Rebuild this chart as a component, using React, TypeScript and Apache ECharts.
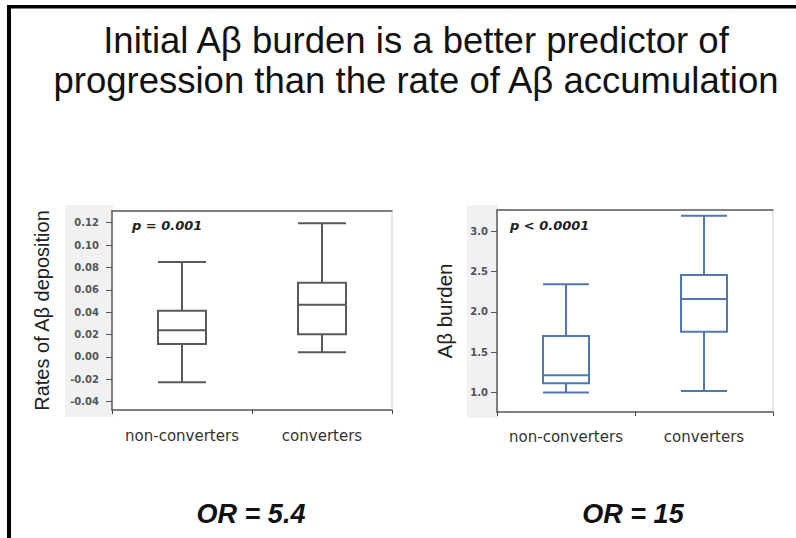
import React, { useEffect, useRef } from "react";
import * as echarts from "echarts";

const titleLines = [
  "Initial Aβ burden is a better predictor of",
  "progression than the rate of Aβ accumulation",
];
const categories = ["non-converters", "converters"];
// [min, Q1, median, Q3, max]
const rateBoxes = [
  [-0.0225, 0.0117, 0.0239, 0.0414, 0.085],
  [0.0043, 0.0204, 0.0468, 0.0664, 0.1195],
];
const burdenBoxes = [
  [1.0, 1.115, 1.215, 1.7, 2.34],
  [1.02, 1.752, 2.157, 2.455, 3.19],
];
const rateTicks = [-0.04, -0.02, 0.0, 0.02, 0.04, 0.06, 0.08, 0.1, 0.12];
const burdenTicks = [1.0, 1.5, 2.0, 2.5, 3.0];
const rateAxisName = "Rates of Aβ deposition";
const burdenAxisName = "Aβ burden";
const pLabels = ["p = 0.001", "p < 0.0001"];
const orLabels = ["OR = 5.4", "OR = 15"];

const SANS = "'Liberation Sans', Arial, sans-serif";
const DEJAVU = "'DejaVu Sans', Verdana, sans-serif";

export default function App() {
  const ref = useRef<HTMLDivElement>(null);
  useEffect(() => {
    if (!ref.current) return;
    const chart = echarts.init(ref.current, undefined, { renderer: "svg" });
    const frameDark = "#5f5f5f";
    const gray = "#595959";
    const blue = "#5076b4";

    const xBottom = (gridIndex: number, margin: number) => ({
      type: "category",
      gridIndex,
      position: "bottom",
      data: categories,
      axisLine: { show: true, onZero: false, lineStyle: { color: frameDark, width: 1.5 } },
      axisTick: { show: true, length: 4, lineStyle: { color: "#444", width: 1 } },
      axisLabel: {
        interval: 0,
        margin,
        fontFamily: DEJAVU,
        fontSize: 15,
        lineHeight: 18,
        color: "#333",
      },
      splitLine: { show: false },
    });
    const xTop = (gridIndex: number) => ({
      type: "category",
      gridIndex,
      position: "top",
      data: categories,
      axisLine: { show: true, onZero: false, lineStyle: { color: frameDark, width: 1.5 } },
      axisTick: { show: false },
      axisLabel: { show: false },
      splitLine: { show: false },
    });

    const option: any = {
      animation: false,
      backgroundColor: "#ffffff",
      grid: [
        {
          left: 112,
          top: 211,
          width: 280,
          height: 199,
          show: true,
          borderColor: "#cfcfcf",
          borderWidth: 1,
          backgroundColor: "#ffffff",
          containLabel: false,
          outerBoundsMode: "none",
        },
        {
          left: 497,
          top: 210,
          width: 276,
          height: 202,
          show: true,
          borderColor: "#cfcfcf",
          borderWidth: 1,
          backgroundColor: "#ffffff",
          containLabel: false,
          outerBoundsMode: "none",
        },
      ],
      xAxis: [xBottom(0, 17), xTop(0), xBottom(1, 16), xTop(1)],
      yAxis: [
        {
          type: "value",
          gridIndex: 0,
          min: -0.0474,
          max: 0.1305,
          name: rateAxisName,
          nameLocation: "middle",
          nameRotate: 90,
          nameGap: 60,
          nameTextStyle: { fontFamily: SANS, fontSize: 20, color: "#222" },
          axisLine: { show: true, onZero: false, lineStyle: { color: frameDark, width: 1.5 } },
          axisTick: {
            show: true,
            length: 6,
            customValues: rateTicks,
            lineStyle: { color: "#555", width: 1 },
          },
          axisLabel: {
            margin: 13,
            customValues: rateTicks,
            formatter: (v: number) => v.toFixed(2),
            fontFamily: DEJAVU,
            fontSize: 10,
            fontWeight: "bold",
            color: "#555",
          },
          splitLine: { show: false },
        },
        {
          type: "value",
          gridIndex: 1,
          min: 0.76,
          max: 3.26,
          name: burdenAxisName,
          nameLocation: "middle",
          nameRotate: 90,
          nameGap: 42,
          nameTextStyle: { fontFamily: SANS, fontSize: 20.5, color: "#222" },
          axisLine: { show: true, onZero: false, lineStyle: { color: frameDark, width: 1.5 } },
          axisTick: {
            show: true,
            length: 6,
            customValues: burdenTicks,
            lineStyle: { color: "#555", width: 1 },
          },
          axisLabel: {
            margin: 9,
            customValues: burdenTicks,
            formatter: (v: number) => v.toFixed(1),
            fontFamily: DEJAVU,
            fontSize: 10,
            fontWeight: "bold",
            color: "#4d5060",
          },
          splitLine: { show: false },
        },
      ],
      series: [
        {
          type: "boxplot",
          xAxisIndex: 0,
          yAxisIndex: 0,
          data: rateBoxes,
          boxWidth: [48, 48],
          silent: true,
          itemStyle: { color: "#ffffff", borderColor: gray, borderWidth: 2 },
        },
        {
          type: "boxplot",
          xAxisIndex: 2,
          yAxisIndex: 1,
          data: burdenBoxes,
          boxWidth: [46, 46],
          silent: true,
          itemStyle: { color: "#ffffff", borderColor: blue, borderWidth: 2 },
        },
      ],
      graphic: [
        { type: "rect", z: -10, shape: { x: 65, y: 205, width: 48, height: 212 }, style: { fill: "#f1f1f1" } },
        { type: "rect", z: -10, shape: { x: 467, y: 205, width: 31, height: 213 }, style: { fill: "#f1f1f1" } },
        { type: "rect", shape: { x: 7, y: 5, width: 4, height: 533 }, style: { fill: "#000" } },
        { type: "rect", shape: { x: 7, y: 5, width: 789, height: 3.5 }, style: { fill: "#000" } },
        {
          type: "text",
          x: 416,
          y: 20.5,
          style: {
            text: titleLines.join("\n"),
            textAlign: "center",
            textVerticalAlign: "top",
            fontFamily: SANS,
            fontSize: 36.5,
            lineHeight: 40,
            fill: "#111",
          },
        },
        {
          type: "text",
          x: 132,
          y: 225,
          style: {
            text: pLabels[0],
            textAlign: "left",
            textVerticalAlign: "middle",
            fontFamily: DEJAVU,
            fontSize: 13,
            fontWeight: "bold",
            fontStyle: "italic",
            fill: "#222",
          },
        },
        {
          type: "text",
          x: 510,
          y: 225,
          style: {
            text: pLabels[1],
            textAlign: "left",
            textVerticalAlign: "middle",
            fontFamily: DEJAVU,
            fontSize: 13,
            fontWeight: "bold",
            fontStyle: "italic",
            fill: "#222",
          },
        },
        {
          type: "text",
          x: 251,
          y: 514,
          style: {
            text: orLabels[0],
            textAlign: "center",
            textVerticalAlign: "middle",
            fontFamily: SANS,
            fontSize: 27,
            fontWeight: "bold",
            fontStyle: "italic",
            fill: "#111",
          },
        },
        {
          type: "text",
          x: 633,
          y: 514,
          style: {
            text: orLabels[1],
            textAlign: "center",
            textVerticalAlign: "middle",
            fontFamily: SANS,
            fontSize: 27,
            fontWeight: "bold",
            fontStyle: "italic",
            fill: "#111",
          },
        },
      ],
    };
    chart.setOption(option);
    return () => chart.dispose();
  }, []);
  return (
    <div
      ref={ref}
      style={{ position: "fixed", left: 0, top: 0, width: 796, height: 538, background: "#fff" }}
    />
  );
}
